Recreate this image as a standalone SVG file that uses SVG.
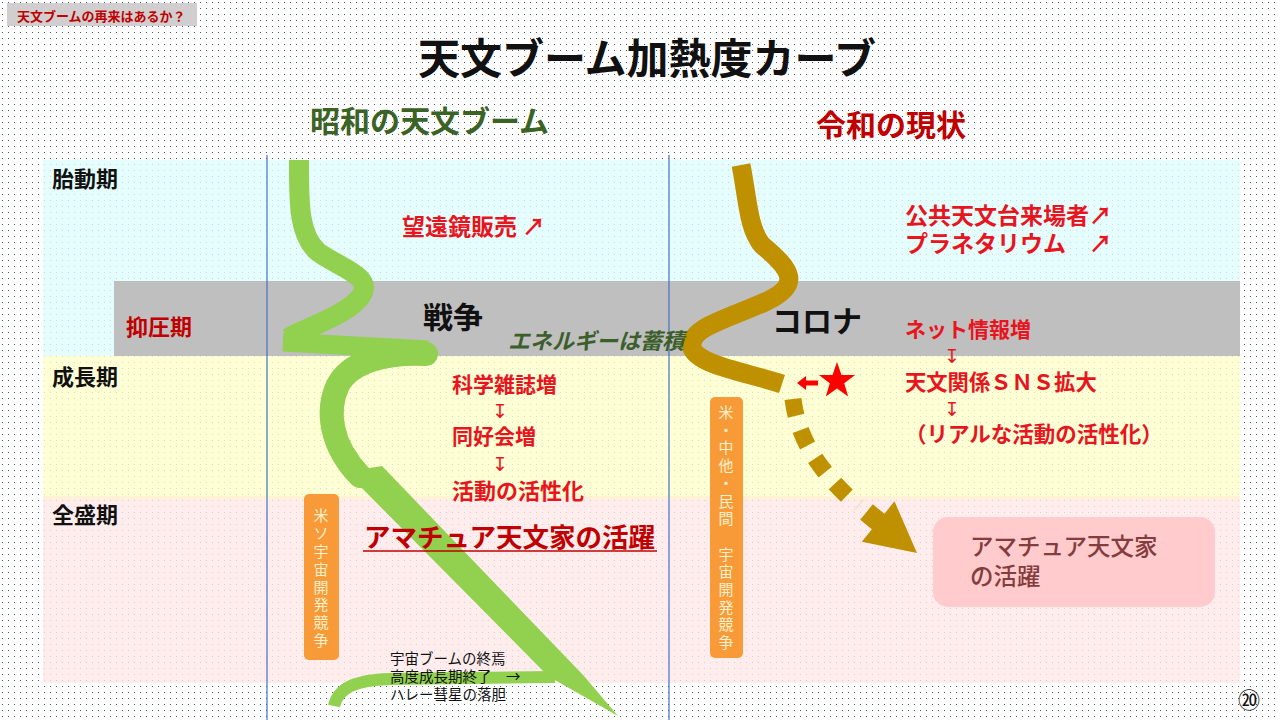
<svg xmlns="http://www.w3.org/2000/svg" width="1280" height="720" viewBox="0 0 1280 720">
<defs>
<pattern id="dots" width="6" height="6" patternUnits="userSpaceOnUse"><rect x="2" y="2" width="1" height="1" fill="#4a5478"/></pattern>
<style>
text{font-family:"Noto Sans CJK JP","Noto Sans CJK SC",sans-serif;font-weight:bold}
.red{fill:#E8141E}
.dred{fill:#C00000}
.blk{fill:#111}
.per{font-size:22px;fill:#111}
.vt{font-size:15px;fill:#FFF0CC;text-anchor:middle;font-weight:normal}
.arr{font-family:"DejaVu Sans",sans-serif;font-size:19px;fill:#E8141E;font-weight:normal;text-anchor:middle}
.band{fill-opacity:0.8}
.vline{stroke:#4472C4;stroke-width:1.2}
.green{fill:none;stroke:#92D050}
.gold{fill:none;stroke:#BF9000}
</style>
</defs>
<rect width="1280" height="720" fill="#ffffff"/>
<rect width="1280" height="720" fill="url(#dots)"/>

<g id="bands">
<rect class="band" x="43" y="160" width="1197" height="196" fill="#E0FDFD"/>
<rect x="114" y="281" width="1126" height="75" fill="#BFBFBF"/>
<rect class="band" x="43" y="356" width="1197" height="140" fill="#FFFFCC"/>
<rect class="band" x="43" y="496" width="1197" height="4" fill="#FFEFD0"/>
<rect class="band" x="43" y="500" width="1197" height="183" fill="#FFE9EA"/>
<line class="vline" x1="267" y1="155" x2="267" y2="720"/>
<line class="vline" x1="669" y1="155" x2="669" y2="720"/>
</g>

<g id="header">
<rect x="7" y="3" width="190" height="23" fill="#D0CECE"/>
<text x="17" y="21" font-size="13" class="dred">天文ブームの再来はあるか？</text>
<text x="647" y="74" font-size="42" text-anchor="middle" class="blk">天文ブーム加熱度カーブ</text>
<text x="310" y="132" font-size="30" fill="#3B6326">昭和の天文ブーム</text>
<text x="816" y="136" font-size="30" class="dred">令和の現状</text>
</g>

<g id="period-labels">
<text x="52" y="187" class="per">胎動期</text>
<text x="126" y="335" class="per" style="fill:#C00000">抑圧期</text>
<text x="52" y="385" class="per">成長期</text>
<text x="52" y="523" class="per">全盛期</text>
</g>

<g id="connectors">
<path class="green" stroke-width="20" d="M299,160 C299,200 298,235 318,252 C340,268 374,276 361,296 C348,315 305,328 288,338"/>
<path class="green" stroke-width="19" d="M283,342 L428,350"/>
<path class="green" stroke-width="24" stroke-linecap="round" d="M426,354 C385,352 350,362 338,385 C326,410 330,445 360,476"/>
<polygon fill="#92D050" points="346,472 382,466 584,676 618,716 548,676"/>
<path class="green" stroke-width="12" d="M334,706 C338,688 355,680 390,679 L555,677"/>
<path class="gold" stroke-width="19" d="M741,165 C748,200 748,228 762,245 C792,270 802,285 765,302 C725,320 688,328 692,348 C698,365 745,372 782,384"/>
<path class="gold" stroke-width="17" stroke-dasharray="17 15" d="M793,399 C798,440 820,472 858,506"/>
<g transform="translate(917,553) rotate(39)">
<polygon fill="#BF9000" points="0,0 -50,-26 -50,-10 -65,-10 -65,10 -50,10 -50,26"/>
</g>
<polygon fill="#FF0000" points="797,383 806,376 806,380.5 818,380.5 818,385.5 806,385.5 806,390"/>
</g>

<g id="star">
<polygon fill="#FF0000" points="837,362 841.5,374.9 855.1,375.1 844.2,383.3 848.2,396.4 837,388.6 825.8,396.4 829.8,383.3 818.9,375.1 832.5,374.9"/>
</g>

<g id="war">
<text x="423" y="328" font-size="30" class="blk">戦争</text>
<text x="508" y="349" font-size="22" font-style="italic" fill="#3B5E2B">エネルギーは蓄積</text>
</g>

<g id="corona">
<text x="772" y="332" font-size="30" class="blk">コロナ</text>
</g>

<g id="showa-texts">
<text x="402" y="235" font-size="23" class="red">望遠鏡販売 ↗</text>
<text x="452" y="392" font-size="21" class="red">科学雑誌増</text>
<text x="500" y="418" class="arr">↧</text>
<text x="452" y="444" font-size="21" class="red">同好会増</text>
<text x="500" y="471" class="arr">↧</text>
<text x="452" y="499" font-size="22" class="red">活動の活性化</text>
</g>

<g id="amateur-showa">
<text x="364" y="547" font-size="26.5" class="dred">アマチュア天文家の活躍</text>
<line x1="363" y1="551" x2="657" y2="551" stroke="#C00000" stroke-width="1.5"/>
</g>

<g id="reiwa-texts">
<text x="905" y="224" font-size="23" class="red">公共天文台来場者↗</text>
<text x="905" y="252" font-size="23" class="red">プラネタリウム　↗</text>
<text x="905" y="337" font-size="21" class="red">ネット情報増</text>
<text x="952" y="363" class="arr">↧</text>
<text x="905" y="390" font-size="21.3" class="red">天文関係ＳＮＳ拡大</text>
<text x="952" y="416" class="arr">↧</text>
<text x="905" y="442" font-size="21.5" class="red">（リアルな活動の活性化）</text>
</g>

<g id="box-usso">
<rect x="304" y="494" width="35" height="166" rx="5" fill="#F99A38"/>
<text class="vt"><tspan x="321" y="521">米</tspan><tspan x="321" y="539">ソ</tspan><tspan x="321" y="557">宇</tspan><tspan x="321" y="575">宙</tspan><tspan x="321" y="593">開</tspan><tspan x="321" y="610">発</tspan><tspan x="321" y="628">競</tspan><tspan x="321" y="646">争</tspan></text>
</g>

<g id="box-usch">
<rect x="710" y="397" width="33" height="261" rx="5" fill="#F99A38"/>
<text class="vt"><tspan x="726" y="418">米</tspan><tspan x="726" y="435.7">・</tspan><tspan x="726" y="453.4">中</tspan><tspan x="726" y="471.1">他</tspan><tspan x="726" y="488.8">・</tspan><tspan x="726" y="506.5">民</tspan><tspan x="726" y="524.2">間</tspan><tspan x="726" y="559.6">宇</tspan><tspan x="726" y="577.3">宙</tspan><tspan x="726" y="595">開</tspan><tspan x="726" y="612.7">発</tspan><tspan x="726" y="630.4">競</tspan><tspan x="726" y="648.1">争</tspan></text>
</g>

<g id="boom-end">
<text font-size="14.5" class="blk" style="font-weight:normal"><tspan x="390" y="664">宇宙ブームの終焉</tspan><tspan x="390" y="682">高度成長期終了　→</tspan><tspan x="390" y="700">ハレー彗星の落胆</tspan></text>
</g>

<g id="amateur-reiwa">
<rect x="933" y="517" width="282" height="90" rx="15" fill="#FFC7C9" fill-opacity="0.9"/>
<text font-size="23.5" fill="#843C3C" style="font-weight:500"><tspan x="970" y="555">アマチュア天文家</tspan><tspan x="970" y="585">の活躍</tspan></text>
</g>

<g id="page">
<text x="1249" y="708" font-size="22" text-anchor="middle" class="blk" style="font-weight:normal">⑳</text>
</g>
</svg>
